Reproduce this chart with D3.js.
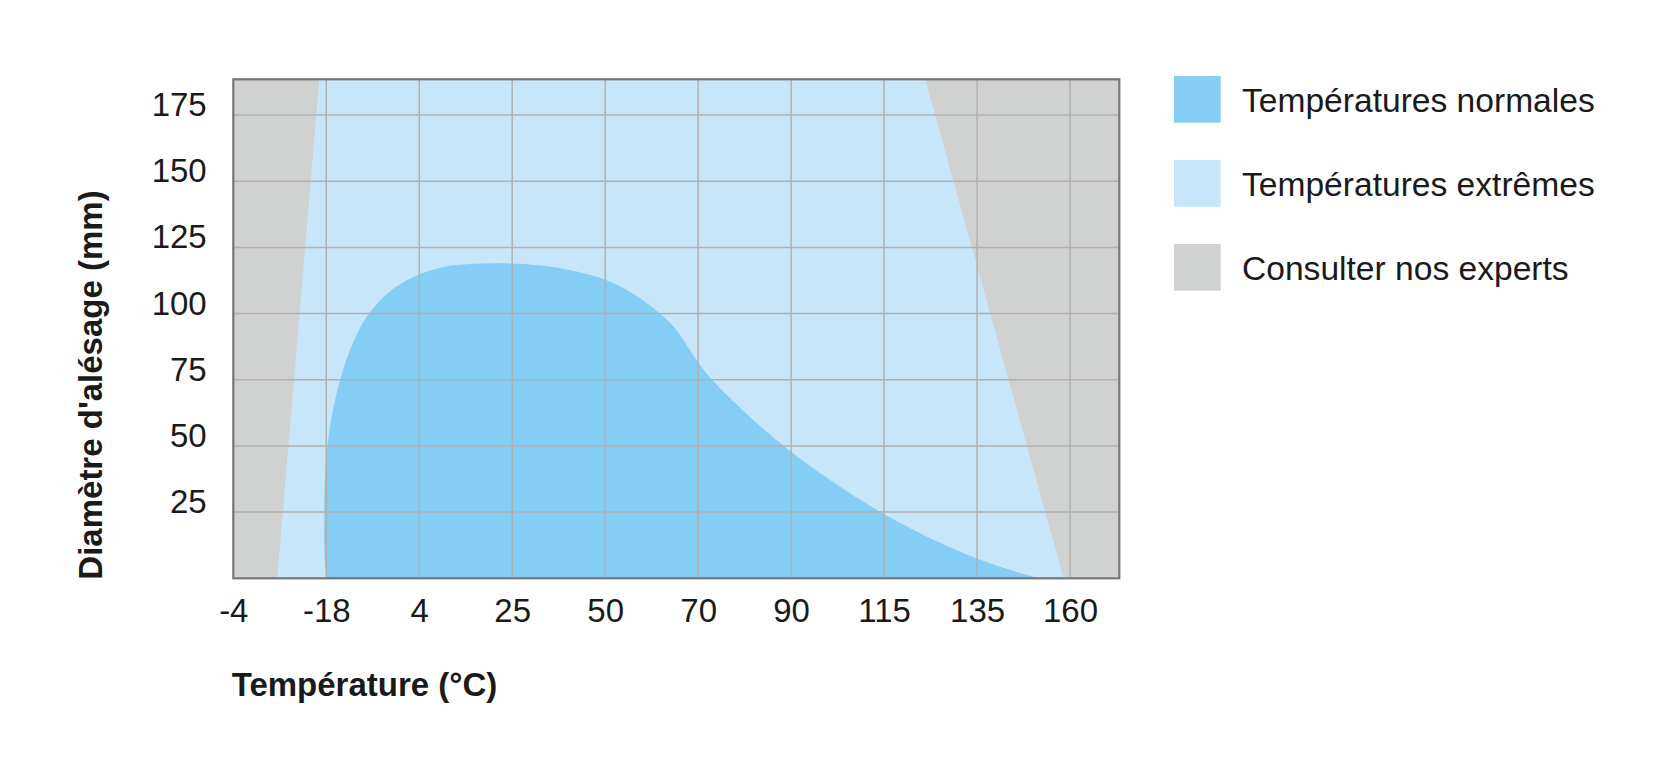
<!DOCTYPE html>
<html><head><meta charset="utf-8">
<script src="https://cdn.jsdelivr.net/npm/d3@7"></script>
<style>
body{margin:0;background:#fff}
text{font-family:"Liberation Sans",Arial,Helvetica,sans-serif;fill:#1a1a1a}
</style>
</head><body><svg id="c" width="1670" height="776"></svg>
<script>
// ---- data ----
const xTickLabels = ["-4","-18","4","25","50","70","90","115","135","160"];
const yTicks = [25,50,75,100,125,150,175];
// normal-temperature envelope (x in tick-position units, y in mm)
const normalX = [1.005,0.982,0.977,0.985,1.03,1.15,1.30,1.46,1.67,1.95,2.25,2.6,3.05,3.5,4.0,4.3,4.59,4.77,4.99,5.15,5.52,5.92,6.42,6.96,7.46,8.0,8.36,8.66];
const normalY = [0,8,20,37,55,75,90,100,108,114,117.5,118.8,118.8,117.2,112.8,107.5,100,93.6,82,75,62.2,50,37.1,25,15.7,7.5,3.1,0];
// extreme-temperature limits (straight boundaries)
const lowLimitX = [0.473, 0.925];
const lowLimitY = [0, 188.5];
const highLimitX = [8.931, 7.443];
const highLimitY = [0, 188.5];
const legendLabels = ["Températures normales","Températures extrêmes","Consulter nos experts"];
const legendColors = ["#84cdf4","#c8e6f9","#d0d1d1"];

// ---- layout ----
const X0=233.3, X1=1119.3, Y0=79.3, Y1=578.3;
const xMax = 9.53, yMax = 188.5;
const x = d3.scaleLinear().domain([0,xMax]).range([X0,X1]);
const y = d3.scaleLinear().domain([0,yMax]).range([Y1,Y0]);
const svg = d3.select("#c");

svg.append("rect").attr("x",X0).attr("y",Y0).attr("width",X1-X0).attr("height",Y1-Y0)
  .attr("fill",legendColors[1]);

const poly = d3.line().x(d=>x(d[0])).y(d=>y(d[1]));
const leftGrey = [[0,lowLimitY[0]],[lowLimitX[0],lowLimitY[0]],[lowLimitX[1],lowLimitY[1]],[0,lowLimitY[1]]];
const rightGrey = [[highLimitX[0],highLimitY[0]],[highLimitX[1],highLimitY[1]],[xMax,highLimitY[1]],[xMax,highLimitY[0]]];
svg.append("path").attr("d",poly(leftGrey)+"Z").attr("fill",legendColors[2]);
svg.append("path").attr("d",poly(rightGrey)+"Z").attr("fill",legendColors[2]);

const normalPts = normalX.map((v,i)=>[v,normalY[i]]);
const curve = d3.line().x(d=>x(d[0])).y(d=>y(d[1])).curve(d3.curveCatmullRom.alpha(0.5));
svg.append("path").attr("d",curve(normalPts)+"Z").attr("fill",legendColors[0]);

// grid
const g = svg.append("g").attr("stroke","#b0b0b0").attr("stroke-width",1.5);
g.selectAll(".v").data(d3.range(1,xTickLabels.length)).join("line")
  .attr("x1",d=>x(d)).attr("x2",d=>x(d)).attr("y1",Y0).attr("y2",Y1);
g.selectAll(".h").data(yTicks).join("line")
  .attr("x1",X0).attr("x2",X1).attr("y1",d=>y(d)).attr("y2",d=>y(d));

// border
svg.append("rect").attr("x",X0).attr("y",Y0).attr("width",X1-X0).attr("height",Y1-Y0)
  .attr("fill","none").attr("stroke","#777").attr("stroke-width",2.2);

// axes
const xa = svg.append("g").attr("transform",`translate(0,${Y1})`)
  .call(d3.axisBottom(x).tickValues(d3.range(xTickLabels.length)).tickFormat(i=>xTickLabels[i]).tickSize(0));
xa.select(".domain").remove();
xa.selectAll("text").attr("y",43.6).attr("dy",0).attr("font-size",33).attr("fill","#1a1a1a")
  .attr("font-family","'Liberation Sans',Arial,sans-serif");

const ya = svg.append("g").attr("transform",`translate(${X0},0)`)
  .call(d3.axisLeft(y).tickValues(yTicks).tickSize(0));
ya.select(".domain").remove();
ya.selectAll("text").attr("x",-26.6).attr("dy",0).attr("y",0.5).attr("font-size",33).attr("fill","#1a1a1a")
  .attr("font-family","'Liberation Sans',Arial,sans-serif");

// titles
svg.append("text").attr("x",231.7).attr("y",695.5).attr("font-size",33).attr("font-weight","bold")
  .text("Température (°C)");
svg.append("text").attr("transform","translate(101.5,385) rotate(-90)").attr("text-anchor","middle")
  .attr("font-size",33).attr("font-weight","bold").text("Diamètre d'alésage (mm)");

// legend
const lg = svg.append("g");
legendLabels.forEach((lab,i)=>{
  lg.append("rect").attr("x",1174).attr("y",76+i*84).attr("width",46.7).attr("height",46.7).attr("fill",legendColors[i]);
  lg.append("text").attr("x",1242).attr("y",111.8+i*84).attr("font-size",33.6).text(lab);
});
</script></body></html>
